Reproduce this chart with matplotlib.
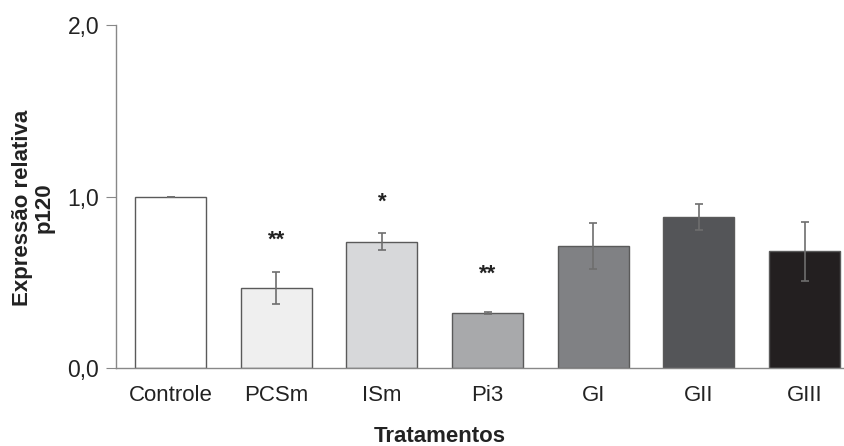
import matplotlib
matplotlib.use("Agg")
import matplotlib.pyplot as plt

categories = ["Controle", "PCSm", "ISm", "Pi3", "GI", "GII", "GIII"]
values = [1.0, 0.465, 0.737, 0.319, 0.713, 0.882, 0.680]
errors = [0.0, 0.092, 0.050, 0.006, 0.135, 0.075, 0.170]
stars = ["", "**", "*", "**", "", "", ""]
star_y = [0, 0.745, 0.965, 0.545, 0, 0, 0]
colors = ["#ffffff", "#efefef", "#d7d8da", "#a8a9ab", "#808184", "#545558", "#231f20"]

plt.rcParams['font.family'] = ['Liberation Sans', 'DejaVu Sans']
fig = plt.figure(figsize=(8.45, 4.46), dpi=100)
ax = fig.add_axes([116/845, 1-368/446, 1-116/845, (368-25)/446])

x = list(range(len(categories)))
ax.bar(x, values, width=0.672, color=colors, edgecolor="#5a5a5a", linewidth=1.0, zorder=2)
ax.errorbar(x, values, yerr=errors, fmt="none", ecolor="#6e6e6e", elinewidth=1.2,
            capsize=3, capthick=1.2, zorder=3)
for xi, s, sy in zip(x, stars, star_y):
    if s:
        ax.text(xi, sy, s, ha="center", va="center", fontsize=16, fontweight="bold",
                color="#222222")

ax.set_xlim(-0.516, 6.383)
ax.set_ylim(0, 2.0)
ax.set_yticks([0, 1, 2])
ax.set_yticklabels(["0,0", "1,0", "2,0"], fontsize=16.5, color="#222222")
ax.set_xticks(x)
ax.set_xticklabels(categories, fontsize=16, color="#222222")
ax.tick_params(axis="x", length=0, pad=12)
ax.tick_params(axis="y", length=7, color="#888888", pad=5)
for s in ["top", "right"]:
    ax.spines[s].set_visible(False)
for s in ["left", "bottom"]:
    ax.spines[s].set_color("#888888")
    ax.spines[s].set_linewidth(1.0)

fig.text(33/845, 1-208/446, "Expressão relativa\np120", rotation=90, ha="center", va="center",
         fontsize=16, fontweight="bold", color="#222222", linespacing=1.05)
fig.text(440/845, 1-437/446, "Tratamentos", ha="center", va="center",
         fontsize=16, fontweight="bold", color="#222222")

fig.savefig("out.png", dpi=100)
